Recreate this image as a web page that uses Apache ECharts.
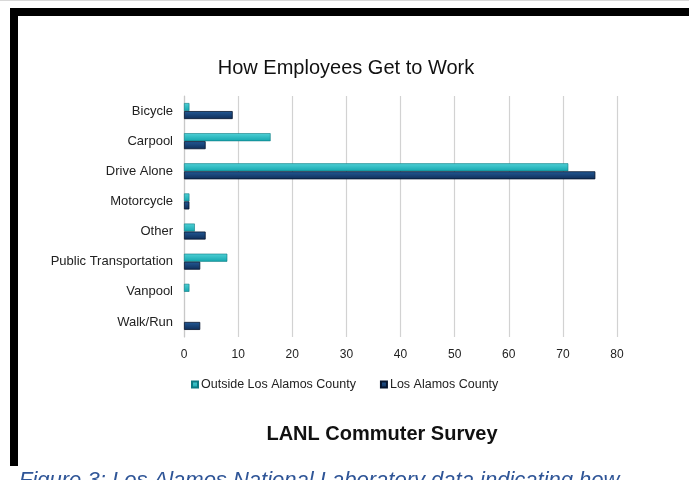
<!DOCTYPE html>
<html>
<head>
<meta charset="utf-8">
<script src="https://cdn.jsdelivr.net/npm/echarts@6/dist/echarts.min.js"></script>
<style>
html,body{margin:0;padding:0;background:#fff;}
#chart{width:689px;height:480px;}
</style>
</head>
<body>
<div id="chart"></div>
<script>
var categories = ["Bicycle", "Carpool", "Drive Alone", "Motorcycle", "Other", "Public Transportation", "Vanpool", "Walk/Run"];
var outsideCounty = [1, 16, 71, 1, 2, 8, 1, 0];
var losAlamosCounty = [9, 4, 76, 1, 4, 3, 0, 3];
var seriesNames = ["Outside Los Alamos County", "Los Alamos County"];
var xTicks = { min: 0, max: 80, interval: 10 };
var chartTitle = "How Employees Get to Work";
var axisTitle = "LANL Commuter Survey";
var captionText = "Figure 3: Los Alamos National Laboratory data indicating how";

function hideZero(arr) { return arr.map(function (v) { return v === 0 ? '-' : v; }); }

var chart = echarts.init(document.getElementById('chart'), null, { renderer: 'canvas' });
var font = "'Liberation Sans', Arial, sans-serif";

chart.setOption({
  animation: false,
  backgroundColor: '#ffffff',
  title: [
    { text: chartTitle, left: 341, top: 53, textAlign: 'center',
      textStyle: { fontFamily: font, fontSize: 20, fontWeight: 'normal', color: '#111' } },
    { text: axisTitle, left: 377, top: 419, textAlign: 'center',
      textStyle: { fontFamily: font, fontSize: 20, fontWeight: 'bold', color: '#111' } }
  ],
  legend: {
    data: seriesNames,
    left: 186, top: 373,
    icon: 'rect', itemWidth: 6, itemHeight: 6, itemGap: 24,
    textStyle: { fontFamily: font, fontSize: 12.5, color: '#222', padding: [0, 0, 0, -2] }
  },
  grid: { left: 184, right: 72, top: 96, bottom: 143, containLabel: false },
  xAxis: {
    type: 'value', min: xTicks.min, max: xTicks.max, interval: xTicks.interval,
    axisLine: { show: false }, axisTick: { show: false },
    axisLabel: { fontFamily: font, fontSize: 12, color: '#222', margin: 12 },
    splitLine: { show: true, lineStyle: { color: '#d2d2d2', width: 1.2 } }
  },
  yAxis: {
    type: 'category', data: categories, inverse: true,
    axisLine: { show: true, lineStyle: { color: '#c8c8c8', width: 1.2 } },
    axisTick: { show: false },
    axisLabel: { fontFamily: font, fontSize: 13, color: '#222', margin: 11 }
  },
  series: [
    { name: seriesNames[0], type: 'bar', data: hideZero(outsideCounty), barWidth: 8, barGap: '0%',
      itemStyle: {
        color: new echarts.graphic.LinearGradient(0, 0, 0, 1, [
          { offset: 0, color: '#4fd0d6' }, { offset: 1, color: '#14a6ae' }]),
        borderColor: '#0d7a82', borderWidth: 0.6
      } },
    { name: seriesNames[1], type: 'bar', data: hideZero(losAlamosCounty), barWidth: 8, barGap: '0%',
      itemStyle: {
        color: new echarts.graphic.LinearGradient(0, 0, 0, 1, [
          { offset: 0, color: '#235a96' }, { offset: 1, color: '#0f2d58' }]),
        borderColor: '#06152e', borderWidth: 0.8
      } }
  ],
  graphic: [
    { type: 'rect', shape: { x: 0, y: 0, width: 689, height: 1 }, style: { fill: '#d8d8d8' } },
    { type: 'rect', shape: { x: 10, y: 8, width: 679, height: 8 }, style: { fill: '#000' } },
    { type: 'rect', shape: { x: 10, y: 8, width: 8, height: 458 }, style: { fill: '#000' } },
    { type: 'text', x: 19, y: 470,
      style: { text: captionText, fontFamily: font, fontSize: 22, fontStyle: 'italic',
               fill: '#2f5597', textVerticalAlign: 'top' } }
  ]
});
</script>
</body>
</html>
